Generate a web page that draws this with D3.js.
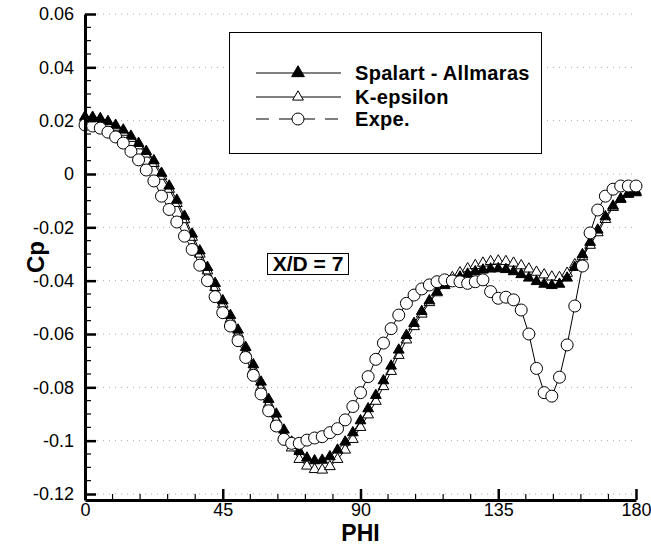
<!DOCTYPE html>
<html>
<head>
<meta charset="utf-8">
<script src="https://cdn.jsdelivr.net/npm/d3@7"></script>
<style>
  body { margin: 0; background: #fff; }
  svg { display: block; font-family: "Liberation Sans", Arial, Helvetica, sans-serif; }
</style>
</head>
<body>
<svg id="chart"></svg>
<script>
// circumferential angle, one sample every 2.5 deg
const phi = [0, 2.5, 5, 7.5, 10, 12.5, 15, 17.5, 20, 22.5, 25, 27.5, 30, 32.5, 35, 37.5, 40, 42.5,
  45, 47.5, 50, 52.5, 55, 57.5, 60, 62.5, 65, 67.5, 70, 72.5, 75, 77.5, 80, 82.5, 85, 87.5,
  90, 92.5, 95, 97.5, 100, 102.5, 105, 107.5, 110, 112.5, 115, 117.5, 120, 122.5, 125, 127.5, 130, 132.5,
  135, 137.5, 140, 142.5, 145, 147.5, 150, 152.5, 155, 157.5, 160, 162.5, 165, 167.5, 170, 172.5, 175, 177.5, 180];

const spalart = [0.0215, 0.0213, 0.0208, 0.0197, 0.0183, 0.0165, 0.0142, 0.0115, 0.0085, 0.005, 0.0003, -0.0045, -0.0098, -0.0158, -0.0225, -0.0288, -0.035, -0.041,
  -0.0475, -0.053, -0.0585, -0.065, -0.0715, -0.078, -0.0845, -0.09, -0.096, -0.1005, -0.104, -0.1065, -0.1075, -0.1073, -0.106, -0.1035, -0.1005, -0.097,
  -0.0925, -0.088, -0.083, -0.0775, -0.072, -0.066, -0.0605, -0.056, -0.0515, -0.0475, -0.0442, -0.0418, -0.04, -0.0386, -0.0375, -0.0366, -0.036, -0.0356,
  -0.0355, -0.0358, -0.0366, -0.0377, -0.039, -0.0403, -0.0413, -0.0418, -0.0413, -0.039, -0.035, -0.0302, -0.0256, -0.021, -0.016, -0.012, -0.0093, -0.0076, -0.007];

const kEpsilon = [0.021, 0.0208, 0.0203, 0.019, 0.0176, 0.0157, 0.0134, 0.0106, 0.0075, 0.004, -0.0008, -0.0057, -0.011, -0.0171, -0.0237, -0.03, -0.0363, -0.0425,
  -0.0488, -0.0545, -0.06, -0.0667, -0.0733, -0.08, -0.0863, -0.0923, -0.098, -0.1027, -0.107, -0.1095, -0.1108, -0.111, -0.1097, -0.107, -0.1035, -0.0995,
  -0.095, -0.0903, -0.0852, -0.0797, -0.074, -0.068, -0.0622, -0.0572, -0.0525, -0.0482, -0.0445, -0.0412, -0.0388, -0.037, -0.0355, -0.0343, -0.0334, -0.0328,
  -0.0326, -0.0328, -0.0334, -0.0344, -0.0356, -0.0368, -0.0378, -0.0386, -0.0388, -0.0372, -0.034, -0.031, -0.0267, -0.022, -0.017, -0.0125, -0.0095, -0.0072, -0.0065];

const expe = [0.0184, 0.018, 0.0172, 0.0157, 0.0139, 0.0116, 0.0085, 0.0053, 0.0015, -0.0026, -0.0083, -0.0133, -0.018, -0.0233, -0.0283, -0.0342, -0.04, -0.046,
  -0.052, -0.057, -0.0625, -0.0688, -0.0755, -0.0825, -0.0888, -0.0945, -0.0995, -0.101, -0.101, -0.0998, -0.099, -0.0985, -0.097, -0.0955, -0.0922, -0.0872,
  -0.082, -0.076, -0.0695, -0.0634, -0.058, -0.0529, -0.0485, -0.0454, -0.0431, -0.0416, -0.0404, -0.0397, -0.0401, -0.0404, -0.041, -0.0404, -0.0397, -0.0441,
  -0.0466, -0.0462, -0.0472, -0.051, -0.06, -0.0729, -0.082, -0.0833, -0.0762, -0.0641, -0.0495, -0.0345, -0.0221, -0.0135, -0.0083, -0.0057, -0.0045, -0.0045, -0.0045];

const xTicks = [0, 45, 90, 135, 180];
const xTickLabels = ["0", "45", "90", "135", "180"];
const yTicks = [-0.12, -0.1, -0.08, -0.06, -0.04, -0.02, 0, 0.02, 0.04, 0.06];
const yTickLabels = ["-0.12", "-0.1", "-0.08", "-0.06", "-0.04", "-0.02", "0", "0.02", "0.04", "0.06"];
const seriesNames = ["Spalart - Allmaras", "K-epsilon", "Expe."];
const annotation = "X/D = 7";

class CpChart {

  constructor(_config) {
    this.config = {
      parentElement: _config.parentElement,
      containerWidth: _config.containerWidth || 651,
      containerHeight: _config.containerHeight || 546,
      margin: { top: 14, right: 15, bottom: 46, left: 85 }
    };
    this.initVis();
  }

  initVis() {
    let vis = this;
    vis.width = vis.config.containerWidth - vis.config.margin.left - vis.config.margin.right;
    vis.height = vis.config.containerHeight - vis.config.margin.top - vis.config.margin.bottom;

    vis.xScale = d3.scaleLinear().domain([0, 180]).range([0, vis.width]);
    // axis runs a little below -0.12, like the original frame
    vis.yScale = d3.scaleLinear().domain([-0.12225, 0.06]).range([vis.height, 0]);

    vis.svg = d3.select(vis.config.parentElement)
      .attr('width', vis.config.containerWidth)
      .attr('height', vis.config.containerHeight);

    vis.chart = vis.svg.append('g')
      .attr('transform', `translate(${vis.config.margin.left},${vis.config.margin.top})`);

    vis.series = [
      { name: seriesNames[0], values: spalart, marker: 'tri', fill: '#000', dash: false },
      { name: seriesNames[1], values: kEpsilon, marker: 'tri', fill: '#fff', dash: false },
      { name: seriesNames[2], values: expe, marker: 'circle', fill: '#fff', dash: true }
    ];

    vis.line = d3.line()
      .x((d, i) => vis.xScale(phi[i]))
      .y(d => vis.yScale(d));

    vis.renderVis();
  }

  renderVis() {
    let vis = this;
    const tri = d3.symbol(d3.symbolTriangle, 50);

    // dotted grid at major y ticks
    vis.chart.append('g').selectAll('line')
      .data(yTicks)
      .join('line')
      .attr('x1', 0).attr('x2', vis.width)
      .attr('y1', d => vis.yScale(d)).attr('y2', d => vis.yScale(d))
      .attr('stroke', '#aaa')
      .attr('stroke-width', 1)
      .attr('stroke-dasharray', '1,5');

    // draw order: K-epsilon, Spalart, then experiment on top
    const order = [vis.series[1], vis.series[0], vis.series[2]];
    order.forEach(s => {
      // the dash only shows up in the legend, points are too close in the plot
      vis.chart.append('path')
        .attr('d', vis.line(s.values))
        .attr('fill', 'none')
        .attr('stroke', '#000')
        .attr('stroke-width', 1);

      const g = vis.chart.append('g');
      if (s.marker === 'tri') {
        g.selectAll('path')
          .data(s.values)
          .join('path')
          .attr('d', tri)
          .attr('transform', (d, i) => `translate(${vis.xScale(phi[i])},${vis.yScale(d)})`)
          .attr('fill', s.fill)
          .attr('stroke', '#000')
          .attr('stroke-width', 1);
      } else {
        g.selectAll('circle')
          .data(s.values)
          .join('circle')
          .attr('cx', (d, i) => vis.xScale(phi[i]))
          .attr('cy', d => vis.yScale(d))
          .attr('r', 6)
          .attr('fill', s.fill)
          .attr('stroke', '#000')
          .attr('stroke-width', 1);
      }
    });

    // minor ticks
    const yMinor = d3.range(-0.12, 0.0601, 0.005).filter(v => !yTicks.some(t => Math.abs(t - v) < 1e-6));
    const xMinor = d3.range(0, 181, 9).filter(v => !xTicks.includes(v));

    vis.chart.append('g').selectAll('line')
      .data(yMinor)
      .join('line')
      .attr('x1', 0).attr('x2', 6)
      .attr('y1', d => vis.yScale(d)).attr('y2', d => vis.yScale(d))
      .attr('stroke', '#000').attr('stroke-width', 1.2);

    vis.chart.append('g').selectAll('line')
      .data(xMinor)
      .join('line')
      .attr('x1', d => vis.xScale(d)).attr('x2', d => vis.xScale(d))
      .attr('y1', vis.height).attr('y2', vis.height - 6)
      .attr('stroke', '#000').attr('stroke-width', 1.2);

    // axes, ticks pointing inward
    const yAxis = d3.axisLeft(vis.yScale)
      .tickValues(yTicks)
      .tickFormat((d, i) => yTickLabels[i])
      .tickSizeInner(-11)
      .tickSizeOuter(0)
      .tickPadding(11);

    const xAxis = d3.axisBottom(vis.xScale)
      .tickValues(xTicks)
      .tickFormat((d, i) => xTickLabels[i])
      .tickSizeInner(-11)
      .tickSizeOuter(0)
      .tickPadding(3);

    const yG = vis.chart.append('g').call(yAxis);
    const xG = vis.chart.append('g')
      .attr('transform', `translate(0,${vis.height})`)
      .call(xAxis);

    [xG, yG].forEach(g => {
      g.select('.domain').attr('stroke-width', 3).attr('stroke', '#000');
      g.selectAll('.tick line').attr('stroke-width', 2.5).attr('stroke', '#000');
      g.selectAll('.tick text')
        .attr('fill', '#000')
        .style('font-family', '"Liberation Sans", Arial, sans-serif')
        .style('font-size', '18px');
    });

    // axis titles
    vis.svg.append('text')
      .attr('x', vis.config.margin.left + vis.width / 2)
      .attr('y', 541)
      .attr('text-anchor', 'middle')
      .attr('font-weight', 'bold')
      .attr('font-size', 23)
      .text('PHI');

    vis.svg.append('text')
      .attr('transform', `translate(44,${vis.config.margin.top + vis.height / 2}) rotate(-90)`)
      .attr('text-anchor', 'middle')
      .attr('font-weight', 'bold')
      .attr('font-size', 24)
      .text('Cp');

    // legend
    const legend = vis.svg.append('g');
    legend.append('rect')
      .attr('x', 229.5).attr('y', 32.5)
      .attr('width', 312).attr('height', 121)
      .attr('fill', '#fff')
      .attr('stroke', '#000').attr('stroke-width', 1);

    const rowY = [73, 97, 119];
    vis.series.forEach((s, i) => {
      const row = legend.append('g').attr('transform', `translate(0,${rowY[i]})`);
      row.append('line')
        .attr('x1', 256).attr('x2', 341)
        .attr('stroke', '#000').attr('stroke-width', 1)
        .attr('stroke-dasharray', s.dash ? '13,10' : null);
      if (s.marker === 'tri') {
        row.append('path')
          .attr('d', d3.symbol(d3.symbolTriangle, i === 0 ? 70 : 50)())
          .attr('transform', 'translate(298,0)')
          .attr('fill', s.fill).attr('stroke', '#000');
      } else {
        row.append('circle')
          .attr('cx', 298).attr('r', 6)
          .attr('fill', '#fff').attr('stroke', '#000');
      }
      row.append('text')
        .attr('x', 355).attr('y', 7)
        .attr('font-weight', 'bold')
        .attr('font-size', 20)
        .attr('letter-spacing', 0.3)
        .text(s.name);
    });

    // station label
    const note = vis.svg.append('g');
    note.append('rect')
      .attr('x', 267.5).attr('y', 253.5)
      .attr('width', 81).attr('height', 21)
      .attr('fill', '#fff')
      .attr('stroke', '#000').attr('stroke-width', 1);
    note.append('text')
      .attr('x', 308).attr('y', 271)
      .attr('text-anchor', 'middle')
      .attr('font-weight', 'bold')
      .attr('font-size', 21)
      .text(annotation);
  }
}

new CpChart({ parentElement: '#chart' });
</script>
</body>
</html>
